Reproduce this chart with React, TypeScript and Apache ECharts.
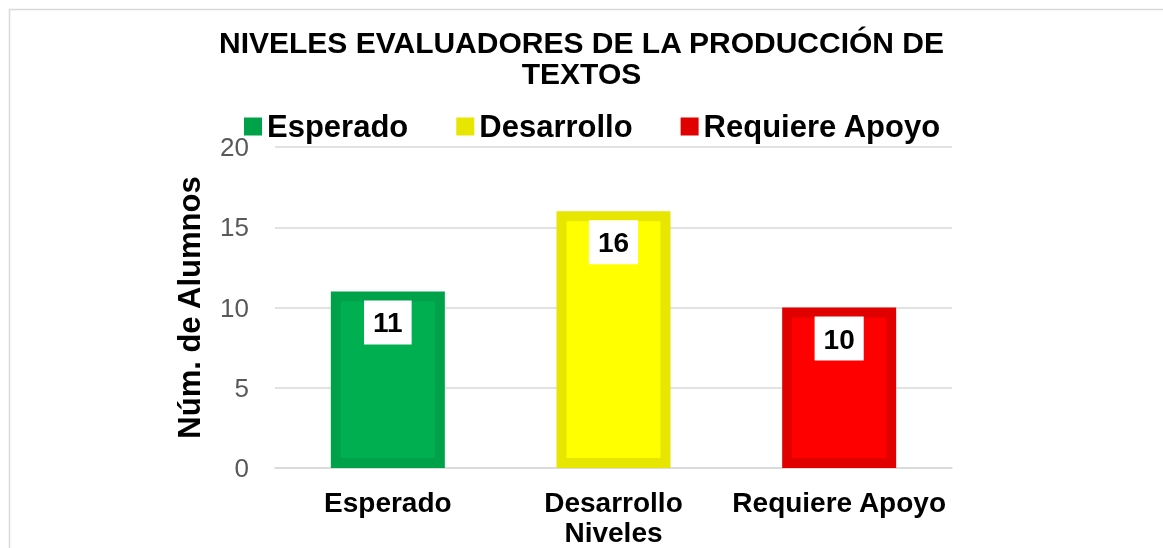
import React, { useEffect, useRef } from 'react';
import * as echarts from 'echarts';

const categories = ['Esperado', 'Desarrollo', 'Requiere Apoyo'];
const seriesNames = ['Esperado', 'Desarrollo', 'Requiere Apoyo'];
const values = [11, 16, 10];
const fillColors = ['#00B050', '#FFFF00', '#FF0000'];
const borderColors = ['#00A249', '#E6E600', '#E00000'];
const yMin = 0;
const yMax = 20;
const yInterval = 5;

export default function App() {
  const ref = useRef<HTMLDivElement>(null);
  useEffect(() => {
    const chart = echarts.init(ref.current!, null, { renderer: 'svg' });
    const font = "'Liberation Sans', Arial, sans-serif";
    const series = seriesNames.map((name, i) => ({
      name,
      type: 'bar',
      data: values.map((v, j) => (j === i ? v : '-')),
      barWidth: 114,
      barGap: '-100%',
      itemStyle: { color: fillColors[i], borderColor: borderColors[i], borderWidth: 10 },
      label: {
        show: true,
        position: 'insideTop',
        distance: 9,
        color: '#000',
        fontFamily: font,
        fontWeight: 'bold',
        fontSize: 28,
        lineHeight: 29,
        backgroundColor: '#fff',
        padding: [8, 9, 7, 9],
      },
    }));
    chart.setOption({
      animation: false,
      textStyle: { fontFamily: font },
      graphic: [
        {
          type: 'rect',
          silent: true,
          z: -1,
          shape: { x: 9.5, y: 9.5, width: 3000, height: 3000 },
          style: { fill: 'none', stroke: '#d9d9d9', lineWidth: 1.5 },
        },
      ],
      title: {
        text: 'NIVELES EVALUADORES DE LA PRODUCCIÓN DE\nTEXTOS',
        left: 'center',
        top: 27,
        padding: 0,
        textStyle: { fontFamily: font, fontSize: 30, fontWeight: 'bold', color: '#000', lineHeight: 31 },
      },
      legend: {
        left: 244,
        top: 111,
        padding: 0,
        icon: 'rect',
        itemWidth: 18,
        itemHeight: 18,
        itemGap: 48,
        textStyle: { fontFamily: font, fontSize: 31, fontWeight: 'bold', color: '#000' },
        data: seriesNames.map((n, i) => ({ name: n, itemStyle: { color: borderColors[i], borderWidth: 0 } })),
      },
      grid: { left: 275, right: 211, top: 147, bottom: 80, containLabel: false, outerBoundsMode: 'none' },
      xAxis: {
        type: 'category',
        data: categories,
        name: 'Niveles',
        nameLocation: 'middle',
        nameGap: 53,
        nameMoveOverlap: false,
        nameTextStyle: { fontFamily: font, fontSize: 28, fontWeight: 'bold', color: '#000', lineHeight: 22 },
        axisTick: { show: false },
        axisLine: { lineStyle: { color: '#d9d9d9', width: 1.5 } },
        axisLabel: { interval: 0, fontFamily: font, fontSize: 28, fontWeight: 'bold', color: '#000', margin: 21, lineHeight: 26 },
      },
      yAxis: {
        type: 'value',
        min: yMin,
        max: yMax,
        interval: yInterval,
        name: 'Núm. de Alumnos',
        nameLocation: 'middle',
        nameGap: 70,
        nameRotate: 90,
        nameMoveOverlap: false,
        nameTextStyle: { fontFamily: font, fontSize: 31, fontWeight: 'bold', color: '#000' },
        axisLine: { show: false },
        axisTick: { show: false },
        axisLabel: { fontFamily: font, fontSize: 26, color: '#595959', margin: 26 },
        splitLine: { lineStyle: { color: '#d9d9d9', width: 1.5 } },
      },
      series,
    });
    return () => chart.dispose();
  }, []);
  return <div ref={ref} style={{ position: 'fixed', left: 0, top: 0, width: 1163, height: 548 }} />;
}
